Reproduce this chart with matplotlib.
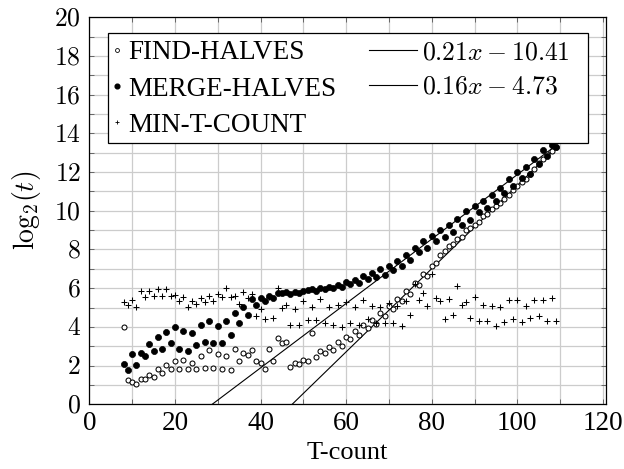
import matplotlib
matplotlib.use("Agg")
import matplotlib.pyplot as plt
from matplotlib.lines import Line2D
from matplotlib.patches import Rectangle
import numpy as np

plt.rcParams['font.family'] = ['Liberation Serif', 'DejaVu Serif']
plt.rcParams['mathtext.fontset'] = 'cm'

# ---------------- data ----------------
t_count = list(range(8, 110))

find_halves = [
    3.98, 1.28, 1.14, 1.07, 1.31, 1.31, 1.49, 1.43, 1.80, 1.63,   # 8-17
    2.04, 1.83, 2.25, 1.80, 2.30, 1.83, 2.16, 1.85, 2.50, 1.90,   # 18-27
    2.79, 1.89, 2.58, 1.80, 2.48, 1.77, 2.88, 2.23, 2.67, 2.57,   # 28-37
    2.79, 2.26, 2.12, 1.81, 2.88, 2.26, 3.45, 3.19, 3.24, 1.95,   # 38-47
    2.16, 2.09, 2.30, 2.23, 3.69, 2.47, 2.78, 2.63, 2.97, 2.81,   # 48-57
    3.22, 3.03, 3.49, 3.39, 3.79, 3.60, 4.12, 3.95, 4.38, 4.17,   # 58-67
    4.72, 4.55, 5.07, 4.90, 5.45, 5.33, 5.84, 5.71, 6.28, 6.19,   # 68-77
    6.74, 6.62, 7.17, 7.31, 7.71, 7.91, 8.17, 8.26, 8.52, 8.66,   # 78-87
    9.00, 9.12, 9.29, 9.43, 9.72, 9.81, 10.07, 10.24, 10.41, 10.62,  # 88-97
    10.84, 11.05, 11.28, 11.48, 11.62, 11.88, 12.14, 12.48, 12.66, 12.91,  # 98-107
    13.09, 13.31,                                                # 108-109
]

merge_halves = [
    2.06, 1.78, 2.61, 2.02, 2.67, 2.48, 3.12, 2.75, 3.48, 2.88,
    3.73, 3.15, 3.99, 2.84, 3.81, 2.74, 3.66, 3.07, 4.09, 3.24,
    4.30, 3.15, 4.07, 3.15, 4.32, 3.60, 4.71, 4.20, 5.01, 4.62,
    5.44, 5.13, 5.51, 5.34, 5.61, 5.47, 5.77, 5.77, 5.80, 5.70,
    5.80, 5.73, 5.84, 5.89, 5.94, 5.87, 6.02, 5.94, 6.08, 6.01,
    6.18, 6.08, 6.32, 6.23, 6.44, 6.28, 6.62, 6.48, 6.76, 6.57,
    6.97, 6.69, 7.17, 6.93, 7.41, 7.17, 7.69, 7.45, 8.10, 7.86,
    8.43, 8.07, 8.69, 8.43, 9.00, 8.66, 9.28, 8.93, 9.60, 9.29,
    9.97, 9.55, 10.24, 9.93, 10.50, 10.16, 10.84, 10.50, 11.19, 10.93,
    11.62, 11.28, 12.00, 11.71, 12.26, 11.91, 12.69, 12.40, 13.14, 12.83,
    13.38, 13.31,
]

min_t_count = [
    5.31, 5.13, 5.39, 5.01, 5.86, 5.53, 5.88, 5.58, 5.98, 5.62,
    5.96, 5.62, 5.64, 5.34, 5.57, 5.01, 5.34, 5.17, 5.48, 5.31,
    5.58, 5.36, 5.70, 5.57, 6.03, 5.57, 5.58, 5.18, 5.80, 5.47,
    5.70, 4.55, 4.95, 4.43, 5.55, 4.44, 6.03, 5.00, 5.14, 4.10,
    4.92, 4.08, 5.35, 4.35, 5.05, 4.35, 5.45, 4.19, 5.03, 4.10,
    5.15, 4.01, 5.29, 4.22, 5.01, 4.10, 5.40, 4.41, 5.10, 4.21,
    5.04, 4.18, 5.23, 4.21, 5.08, 4.04, 5.35, 4.64, 6.20, 5.37,
    5.76, 5.07, 6.73, 5.48, 5.33, 4.43, 5.44, 4.62, 6.12, 5.13,
    5.30, 4.45, 5.54, 4.30, 5.14, 4.33, 5.10, 4.03, 5.03, 4.26,
    5.41, 4.41, 5.41, 4.26, 5.10, 4.47, 5.41, 4.55, 5.41, 4.33,
    5.47, 4.33,
]

series_names = ['FIND-HALVES', 'MERGE-HALVES', 'MIN-T-COUNT']
fit_labels = [r'$0.21x-10.41$', r'$0.16x-4.73$']
# fitted lines as drawn in the picture: (slope, intercept)
fit_find = (0.215, -10.19)
fit_merge = (0.1665, -4.78)

x_ticks = [0, 20, 40, 60, 80, 100, 120]
y_ticks = [0, 2, 4, 6, 8, 10, 12, 14, 16, 18, 20]

# ---------------- figure ----------------
W, H = 624, 469
fig = plt.figure(figsize=(W / 100, H / 100), dpi=100)
L, R, T, B = 89.3, 605.7, 17.3, 404.3
ax = fig.add_axes([L / W, 1 - B / H, (R - L) / W, (B - T) / H])

ax.set_xlim(0, 120.65)
ax.set_ylim(0, 20)
ax.set_xticks(x_ticks)
ax.set_xticks(np.arange(0, 121, 10), minor=True)
ax.set_yticks(y_ticks)
ax.set_yticks(np.arange(0, 21, 1), minor=True)
ax.set_xticklabels([str(v) for v in x_ticks], fontsize=19.5)
ax.set_yticklabels([f'${v}$' for v in y_ticks], fontsize=18.5)
ax.grid(which='both', color='#cccccc', linewidth=0.9)
ax.set_axisbelow(True)
ax.tick_params(which='both', direction='in', top=True, right=True,
               length=3.5, width=0.6, color='#555555')
ax.tick_params(axis='x', pad=5)
ax.tick_params(axis='y', pad=6)
for s in ax.spines.values():
    s.set_linewidth(0.9)

xs = np.array(t_count, dtype=float)
xfit = np.array([t_count[0], t_count[-1]], dtype=float)
ax.plot(xfit, fit_merge[0] * xfit + fit_merge[1], color='black', lw=0.8, zorder=3)
ax.plot(xfit, fit_find[0] * xfit + fit_find[1], color='black', lw=0.8, zorder=3)

ax.plot(xs, find_halves, ls='none', marker='o', ms=3.6, mfc='white',
        mec='black', mew=0.75, zorder=3)
ax.plot(xs, merge_halves, ls='none', marker='o', ms=4.4, mfc='black',
        mec='black', mew=0.5, zorder=3)
ax.plot(xs, min_t_count, ls='none', marker='+', ms=4.0, color='black',
        mew=0.75, zorder=3)

ax.set_xlabel('T-count', fontsize=19, labelpad=4)
ax.set_ylabel(r'$\mathrm{log}_2(t)$', fontsize=20, labelpad=8)

# ---------------- legend ----------------
def axx(px):
    return (px - L) / (R - L)

def axy(py):
    return (B - py) / (B - T)

frame = Rectangle((axx(107.7), axy(143.3)), axx(588.3) - axx(107.7),
                  axy(33.3) - axy(143.3), transform=ax.transAxes,
                  facecolor='white', edgecolor='black', lw=0.9, zorder=4)
ax.add_patch(frame)

LFS = 19.5
h1 = [Line2D([], [], ls='none', marker='o', ms=2.8, mfc='white', mec='black', mew=0.6),
      Line2D([], [], ls='none', marker='o', ms=3.4, mfc='black', mec='black'),
      Line2D([], [], ls='none', marker='+', ms=3.2, color='black', mew=0.6)]
leg1 = ax.legend(h1, series_names, loc='center left',
                 bbox_to_anchor=(axx(111), axy(89)), frameon=False,
                 fontsize=LFS, handlelength=0.45, handletextpad=0.2,
                 borderpad=0, borderaxespad=0, labelspacing=0.42)
leg1.set_zorder(5)
ax.add_artist(leg1)

h2 = [Line2D([], [], color='black', lw=0.8),
      Line2D([], [], color='black', lw=0.8)]
leg2 = ax.legend(h2, fit_labels, loc='center left',
                 bbox_to_anchor=(axx(369), axy(70)), frameon=False,
                 fontsize=18.5, handlelength=1.85, handletextpad=0.2,
                 borderpad=0, borderaxespad=0, labelspacing=0.45)
leg2.set_zorder(5)

fig.savefig('out.png', dpi=100)
